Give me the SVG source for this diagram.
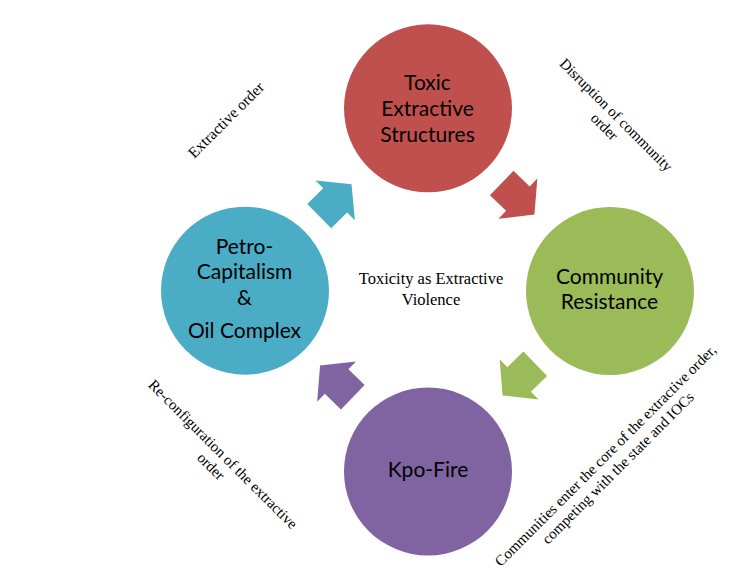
<svg xmlns="http://www.w3.org/2000/svg" xmlns:xlink="http://www.w3.org/1999/xlink" width="753" height="575" viewBox="0 0 753 575">
  <style>
    .node-text { font-family: Lato, "Liberation Sans", sans-serif; font-size: 21px; fill: #000; text-anchor: middle; }
    .label { font-family: "Liberation Serif", "Times New Roman", serif; font-size: 15px; fill: #000; text-anchor: middle; }
    .center { font-family: "Liberation Serif", "Times New Roman", serif; font-size: 16.5px; fill: #000; text-anchor: middle; }
  </style>
  <defs>
    <path id="arrow" d="M0,-17 L22.5,-17 L22.5,-28 L45.5,0 L22.5,28 L22.5,17 L0,17 Z"/>
  </defs>
  <rect width="753" height="575" fill="#ffffff"/>

  <g id="connectors">
    <use xlink:href="#arrow" href="#arrow" fill="#4BACC6" transform="translate(319.2,216.2) rotate(-44.7)"/>
    <use xlink:href="#arrow" href="#arrow" fill="#C0504D" transform="translate(501.7,183) rotate(44)"/>
    <use xlink:href="#arrow" href="#arrow" fill="#9BBB59" transform="translate(535.3,363.8) rotate(136)"/>
    <use xlink:href="#arrow" href="#arrow" fill="#8064A2" transform="translate(352.8,397.2) rotate(-136)"/>
  </g>

  <g id="node-toxic">
    <circle cx="428" cy="108.3" r="84" fill="#C0504D"/>
    <text class="node-text" x="427.5" y="90">Toxic</text>
    <text class="node-text" x="427.5" y="115.7">Extractive</text>
    <text class="node-text" x="427.5" y="141.5">Structures</text>
  </g>

  <g id="node-community">
    <circle cx="610" cy="291" r="84" fill="#9BBB59"/>
    <text class="node-text" x="609.5" y="284">Community</text>
    <text class="node-text" x="609.5" y="309.3">Resistance</text>
  </g>

  <g id="node-kpofire">
    <circle cx="428" cy="471.5" r="84" fill="#8064A2"/>
    <text class="node-text" x="428" y="477.3">Kpo-Fire</text>
  </g>

  <g id="node-petro">
    <circle cx="245" cy="290.7" r="84" fill="#4BACC6"/>
    <text class="node-text" x="244.5" y="254.3">Petro-</text>
    <text class="node-text" x="244.5" y="279.3">Capitalism</text>
    <text class="node-text" x="244.5" y="305">&amp;</text>
    <text class="node-text" x="244.5" y="338.3">Oil Complex</text>
  </g>

  <g id="center-label">
    <text class="center" x="431" y="284">Toxicity as Extractive</text>
    <text class="center" x="431" y="305">Violence</text>
  </g>

  <g id="labels">
    <text class="label" style="font-size:15.5px" transform="translate(229.6,123.6) rotate(-45)" x="0" y="0">Extractive order</text>
    <g transform="translate(612.6,118.4) rotate(45)">
      <text class="label" x="0" y="0">Disruption of community</text>
      <text class="label" x="0" y="16.5">order</text>
    </g>
    <g transform="translate(609,459) rotate(-45)">
      <text class="label" x="0" y="0">Communities enter the core of the extractive order,</text>
      <text class="label" x="0" y="17.7">competing with the state and IOCs</text>
    </g>
    <g transform="translate(219.5,457.8) rotate(45)">
      <text class="label" x="0" y="0">Re-configuration of the extractive</text>
      <text class="label" x="0" y="17">order</text>
    </g>
  </g>
</svg>
